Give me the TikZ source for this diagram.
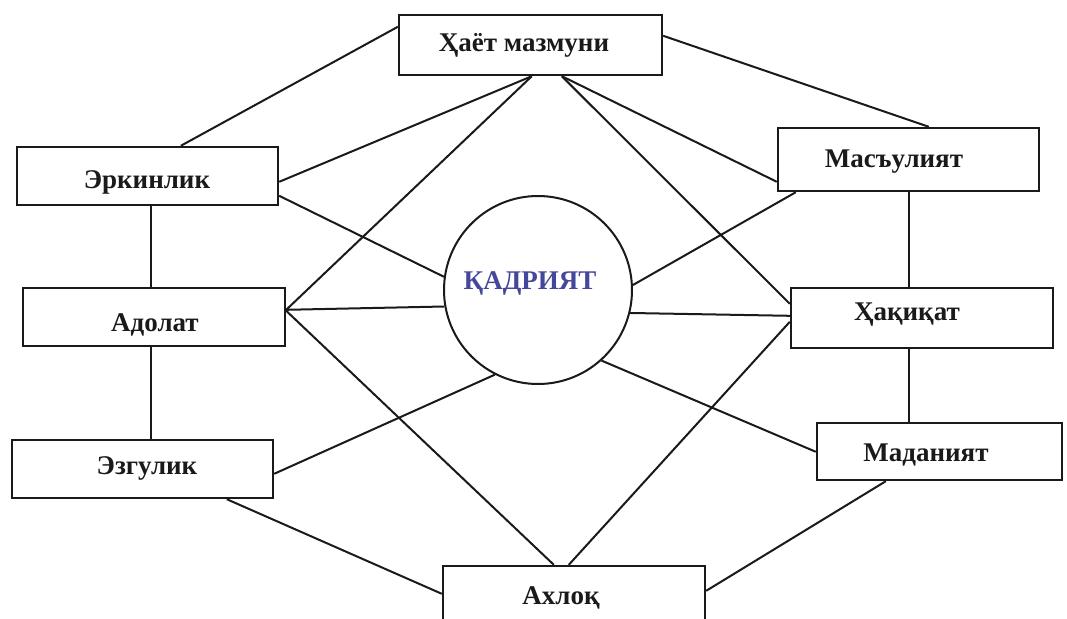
\documentclass[tikz,border=0pt]{standalone}
\usepackage{fontspec}
\setmainfont{Liberation Serif}
\usetikzlibrary{calc}
\definecolor{ink}{HTML}{1A1A1A}
\definecolor{kblue}{HTML}{45479A}
\begin{document}
\begin{tikzpicture}[x=1pt,y=-1pt,
  boxnode/.style={draw=ink,line width=2.4pt,fill=white,rectangle,inner sep=0pt},
  lbl/.style={font=\fontsize{27}{30}\selectfont\bfseries,text=ink,inner sep=0pt},
  conn/.style={draw=ink,line width=2pt}]
\useasboundingbox (0,0) rectangle (1067,618);
\clip (0,0) rectangle (1067,618);
\fill[white] (0,0) rectangle (1067,618);
% boxes
\node[boxnode,minimum width=263pt,minimum height=60pt] (hm) at (530.5,45) {};
\node[boxnode,minimum width=261pt,minimum height=58pt] (er) at (147.5,176) {};
\node[boxnode,minimum width=262pt,minimum height=58pt] (ad) at (154,317) {};
\node[boxnode,minimum width=261pt,minimum height=58pt] (ez) at (142.5,469) {};
\node[boxnode,minimum width=261pt,minimum height=63pt] (ms) at (908.5,159.5) {};
\node[boxnode,minimum width=262pt,minimum height=60pt] (hq) at (922,318) {};
\node[boxnode,minimum width=245pt,minimum height=57pt] (md) at (939.5,451.5) {};
\node[boxnode,minimum width=262pt,minimum height=70pt] (ax) at (574,601) {};
\node[draw=ink,line width=2pt,circle,minimum size=188pt,inner sep=0pt] (kd) at (538,290) {};
% connectors
\draw[conn] ($(hm.north west)+(0,13)$) -- ($(er.north west)+(165,0)$);
\draw[conn] ($(hm.north east)+(0,22)$) -- ($(ms.north west)+(152,0)$);
\draw[conn] ($(hm.south west)+(134,0)$) -- ($(er.north east)+(0,36)$);
\draw[conn] ($(hm.south west)+(134,0)$) -- ($(ad.north east)+(0,23)$);
\draw[conn] ($(hm.south west)+(164,0)$) -- ($(ms.north west)+(0,55)$);
\draw[conn] ($(hm.south west)+(164,0)$) -- ($(hq.north west)+(0,17)$);
\draw[conn] ($(er.north east)+(0,50)$) -- (kd.172);
\draw[conn] ($(ad.north east)+(0,23)$) -- (kd.190);
\draw[conn] ($(ad.north east)+(0,24)$) -- ($(ax.north west)+(112,0)$);
\draw[conn] ($(ez.north east)+(0,35)$) -- (kd.243);
\draw[conn] ($(ez.south west)+(216,0)$) -- ($(ax.north west)+(0,29)$);
\draw[conn] (kd.3) -- ($(ms.south west)+(19,0)$);
\draw[conn] (kd.346) -- ($(hq.north west)+(0,29)$);
\draw[conn] ($(ax.north west)+(127,0)$) -- ($(hq.north west)+(0,35)$);
\draw[conn] (kd.312) -- ($(md.north west)+(0,30)$);
\draw[conn] ($(md.south west)+(70,0)$) -- ($(ax.north east)+(0,26)$);
\draw[conn] ($(er.south west)+(135,0)$) -- ($(ad.north west)+(129,0)$);
\draw[conn] ($(ad.south west)+(129,0)$) -- ($(ez.north west)+(140,0)$);
\draw[conn] ($(ms.south west)+(132,0)$) -- ($(hq.north west)+(119,0)$);
\draw[conn] ($(hq.south west)+(119,0)$) -- ($(md.north west)+(93,0)$);
% labels
\node[lbl] (t-hm) at (524,45) {Ҳаёт мазмуни};
\node[lbl] (t-er) at (147,182) {Эркинлик};
\node[lbl] (t-ad) at (155,325) {Адолат};
\node[lbl] (t-ez) at (147,468) {Эзгулик};
\node[lbl] (t-ms) at (894,162) {Масъулият};
\node[lbl] (t-hq) at (907,315) {Ҳақиқат};
\node[lbl] (t-md) at (926,455) {Маданият};
\node[lbl] (t-ax) at (561,598) {Ахлоқ};
\node[lbl,text=kblue] (t-kd) at (530,283) {ҚАДРИЯТ};
\end{tikzpicture}
\end{document}
